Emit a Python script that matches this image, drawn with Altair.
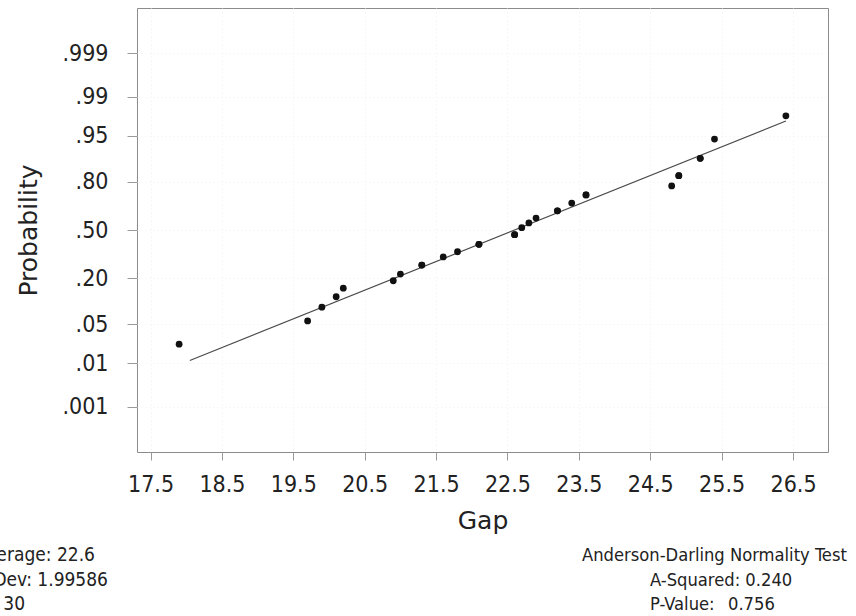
import altair as alt
import pandas as pd
from statistics import NormalDist

# Gap measurements (n = 30)
gap = [17.9, 19.7, 19.9, 20.1, 20.2, 20.9, 21.0, 21.3, 21.3, 21.6,
       21.8, 22.1, 22.1, 22.6, 22.6, 22.7, 22.8, 22.9, 23.2, 23.2,
       23.4, 23.6, 23.6, 24.8, 24.9, 24.9, 25.2, 25.2, 25.4, 26.4]
mean_gap = 22.6
sd_gap = 1.99586
fit_ends = [18.05, 26.4]

x_ticks = [17.5, 18.5, 19.5, 20.5, 21.5, 22.5, 23.5, 24.5, 25.5, 26.5]
prob_ticks = [0.001, 0.01, 0.05, 0.20, 0.50, 0.80, 0.95, 0.99, 0.999]
prob_labels = [".001", ".01", ".05", ".20", ".50", ".80", ".95", ".99", ".999"]

stats_left = ["Average: 22.6", "StDev: 1.99586", "N: 30"]
stats_right = ["Anderson-Darling Normality Test", "A-Squared: 0.240",
               "P-Value:\u2002 0.756"]

TICK_FONT = "DejaVu Sans Condensed, DejaVu Sans"
TITLE_FONT = "DejaVu Sans"

nd = NormalDist()
n = len(gap)

# median-rank plotting positions, tied values share their average rank
ordered = sorted(gap)
avg_rank = {}
for v in set(ordered):
    idx = [i + 1 for i, s in enumerate(ordered) if s == v]
    avg_rank[v] = sum(idx) / len(idx)
pts = pd.DataFrame({
    "gap": ordered,
    "z": [nd.inv_cdf((avg_rank[v] - 0.3) / (n + 0.4)) for v in ordered],
})

fit = pd.DataFrame({
    "gap": fit_ends,
    "z": [(v - mean_gap) / sd_gap for v in fit_ends],
})

z_ticks = [nd.inv_cdf(p) for p in prob_ticks]
label_expr = " : ".join(
    f"abs(datum.value - ({zt:.5f})) < 0.01 ? '{lab}'"
    for zt, lab in zip(z_ticks, prob_labels)
) + " : ''"

W, H = 691, 444
x_scale = alt.Scale(domain=[17.31, 26.99], nice=False, zero=False)
y_scale = alt.Scale(domain=[-3.88, 3.88], nice=False, zero=False)

x_axis = alt.Axis(
    values=x_ticks, format=".1f", title="Gap",
    domain=False, tickSize=8, tickColor="#9a9a9a",
    labelFont=TICK_FONT, labelFontSize=23, labelColor="#222222",
    labelBaseline="alphabetic", labelPadding=31,
    titleFont=TITLE_FONT, titleFontSize=25, titleFontWeight="normal",
    titleColor="#222222", titleX=W / 2, titleY=76,
    titleAlign="center", titleBaseline="alphabetic",
    grid=True, gridColor="#f0f0f0", gridDash=[1, 3],
)
y_axis = alt.Axis(
    values=z_ticks, labelExpr=label_expr, title="Probability",
    domain=False, tickSize=10, tickColor="#9a9a9a",
    labelFont=TICK_FONT, labelFontSize=23, labelColor="#222222",
    labelPadding=19,
    titleFont=TITLE_FONT, titleFontSize=25, titleFontWeight="normal",
    titleColor="#222222", titleX=-101, titleY=H / 2, titleAngle=270,
    titleAlign="center", titleBaseline="alphabetic",
    grid=True, gridColor="#f0f0f0", gridDash=[1, 3],
)

line = alt.Chart(fit).mark_line(color="#4a4a4a", strokeWidth=1.2).encode(
    x=alt.X("gap:Q", scale=x_scale, axis=x_axis),
    y=alt.Y("z:Q", scale=y_scale, axis=y_axis),
)

dots = alt.Chart(pts).mark_circle(size=46, color="#111111", opacity=1).encode(
    x=alt.X("gap:Q", scale=x_scale),
    y=alt.Y("z:Q", scale=y_scale),
)

# summary statistics below the plot, positioned in pixels from the plot origin
notes = pd.DataFrame({
    "text": stats_left + stats_right,
    "px": [-42, -29, -112, 445, 513, 513],
    "py": [553, 577.5, 602, 553, 577.5, 602],
    "side": ["l", "l", "l", "r", "r", "r"],
})
notes_left = alt.Chart(notes).transform_filter("datum.side == 'l'").mark_text(
    align="right", baseline="alphabetic", font=TICK_FONT, fontSize=19,
    color="#222222",
).encode(
    x=alt.X("px:Q", scale=None), y=alt.Y("py:Q", scale=None), text="text:N"
)
notes_right = alt.Chart(notes).transform_filter("datum.side == 'r'").mark_text(
    align="left", baseline="alphabetic", font=TICK_FONT, fontSize=18.2,
    color="#222222",
).encode(
    x=alt.X("px:Q", scale=None), y=alt.Y("py:Q", scale=None), text="text:N"
)

chart = alt.layer(line, dots, notes_left, notes_right).properties(
    width=W, height=H,
    autosize=alt.AutoSizeParams(type="none"),
    padding={"left": 137, "top": 8, "right": 28, "bottom": 164},
    background="white",
).configure_view(stroke="#8c8c8c", strokeWidth=1)

chart.save("out.html", embed_options={"renderer": "svg", "actions": False})
